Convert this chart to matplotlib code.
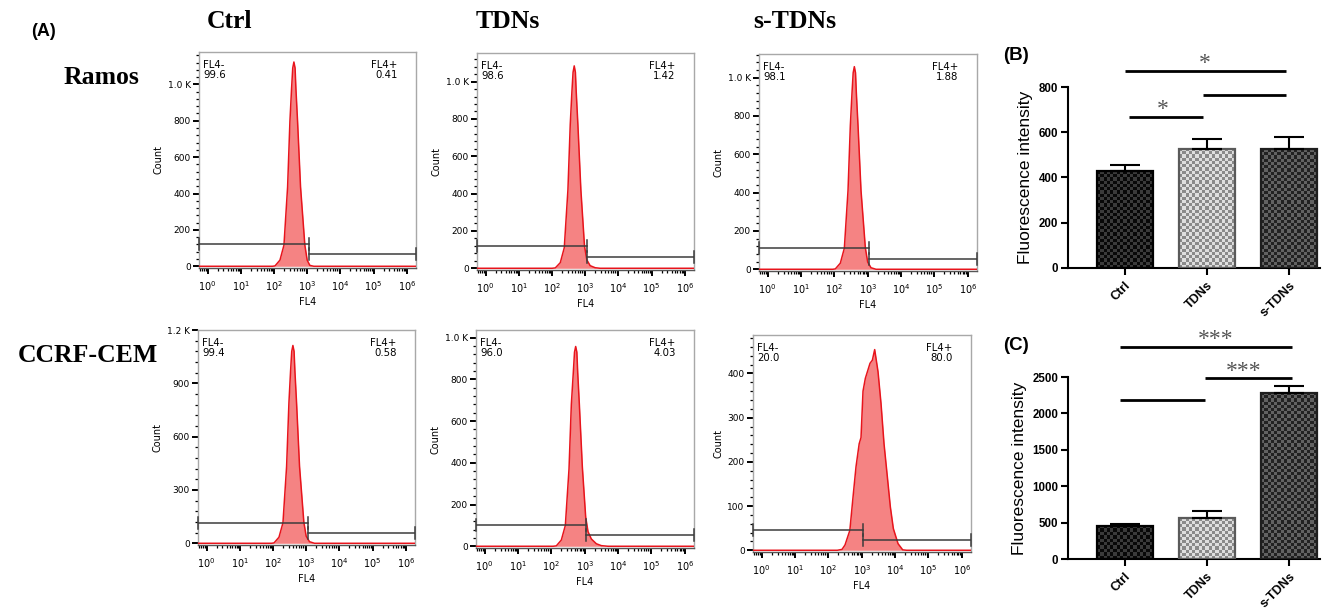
import numpy as np
import matplotlib
matplotlib.use('Agg')
import matplotlib.pyplot as plt
from matplotlib.ticker import FixedLocator, MultipleLocator, LogLocator, NullFormatter
from matplotlib.colors import ListedColormap

plt.rcParams['font.family'] = ['Liberation Sans', 'DejaVu Sans']
plt.rcParams['mathtext.default'] = 'regular'

W, H = 1338, 613

# ---- data ----
col_names = ['Ctrl', 'TDNs', 's-TDNs']
row_names = ['Ramos', 'CCRF-CEM']

# flow histograms: log10(FL4) and Count
ramos_ctrl_log = [1.95, 2.03, 2.18, 2.3, 2.41, 2.48, 2.53, 2.565, 2.6, 2.635, 2.66, 2.71, 2.8, 2.93, 3.0, 3.08, 3.2]
ramos_ctrl_cnt = [0, 2, 34, 116, 436, 797, 978, 1090, 1123, 1090, 978, 797, 436, 116, 34, 5, 0]
ramos_tdn_log = [2.0, 2.1, 2.25, 2.37, 2.48, 2.55, 2.6, 2.635, 2.67, 2.705, 2.73, 2.78, 2.87, 2.98, 3.05, 3.15, 3.3, 3.45]
ramos_tdn_cnt = [0, 2, 30, 110, 420, 770, 945, 1050, 1084, 1050, 945, 770, 420, 118, 45, 14, 3, 0]
ramos_stdn_log = [1.95, 2.03, 2.18, 2.3, 2.41, 2.48, 2.53, 2.565, 2.6, 2.635, 2.66, 2.71, 2.8, 2.93, 3.0, 3.1, 3.25]
ramos_stdn_cnt = [0, 2, 32, 110, 410, 750, 920, 1025, 1057, 1025, 920, 750, 410, 112, 38, 8, 0]
cem_ctrl_log = [1.95, 2.03, 2.18, 2.3, 2.41, 2.48, 2.53, 2.565, 2.6, 2.635, 2.66, 2.71, 2.8, 2.93, 3.0, 3.1, 3.25]
cem_ctrl_cnt = [0, 2, 34, 115, 432, 790, 970, 1080, 1113, 1080, 970, 790, 432, 118, 40, 9, 0]
cem_tdn_log = [2.05, 2.15, 2.3, 2.42, 2.53, 2.6, 2.66, 2.695, 2.73, 2.765, 2.79, 2.84, 2.93, 3.03, 3.1, 3.2, 3.35, 3.5, 3.7]
cem_tdn_cnt = [0, 2, 30, 100, 370, 680, 835, 930, 957, 930, 835, 680, 380, 140, 70, 35, 12, 3, 0]
cem_stdn_log = [2.27, 2.41, 2.5, 2.645, 2.74, 2.83, 2.925, 2.98, 3.04, 3.11, 3.25, 3.32, 3.39,
                3.49, 3.58, 3.67, 3.77, 3.86, 3.95, 4.09, 4.23, 4.35]
cem_stdn_cnt = [0, 2, 12, 45, 120, 189, 241, 255, 360, 389, 423, 430, 454,
                404, 332, 241, 166, 98, 49, 15, 1, 0]

neg_pct = [['99.6', '98.6', '98.1'], ['99.4', '96.0', '20.0']]
pos_pct = [['0.41', '1.42', '1.88'], ['0.58', '4.03', '80.0']]

# bar charts (mean, upper error)
ramos_mean = [428, 528, 524]
ramos_err = [27, 44, 56]
cem_mean = [458, 559, 2285]
cem_err = [27, 96, 88]

# ---- layout ----
fig = plt.figure(figsize=(W / 100, H / 100), dpi=100)


def px_axes(l, t, r, b):
    return fig.add_axes([l / W, 1 - b / H, (r - l) / W, (b - t) / H])


XMIN, XMAX = 0.55, 1.9e6
GATE = 1100

hist_boxes = [[(199, 52, 416, 268), (477, 53, 694, 270), (759, 54, 977, 271)],
              [(198, 330, 415, 545), (476, 330, 694, 548), (753, 335, 971, 552)]]
hist_data = [[(ramos_ctrl_log, ramos_ctrl_cnt), (ramos_tdn_log, ramos_tdn_cnt), (ramos_stdn_log, ramos_stdn_cnt)],
             [(cem_ctrl_log, cem_ctrl_cnt), (cem_tdn_log, cem_tdn_cnt), (cem_stdn_log, cem_stdn_cnt)]]
y_tops = [[1178, 1153, 1123], [1200, 1036, 487]]
k_ticks = ([0, 200, 400, 600, 800, 1000], ['0', '200', '400', '600', '800', '1.0 K'], 40)
y_tick_sets = [[k_ticks, k_ticks, k_ticks],
               [([0, 300, 600, 900, 1200], ['0', '300', '600', '900', '1.2 K'], 60), k_ticks,
                ([0, 100, 200, 300, 400], ['0', '100', '200', '300', '400'], 20)]]
gates = [[(122, 67), (118, 59), (110, 55)], [(115, 60), (103, 52), (45, 23)]]

hfont = 'DejaVu Sans'


def draw_hist(ax, logx, cnt, ytop, yt, gate, neg, pos):
    x = np.concatenate([[XMIN], 10 ** np.asarray(logx, dtype=float), [XMAX]])
    y = np.concatenate([[0], cnt, [0]])
    ax.fill_between(x, 0, y, color='#f58383', lw=0, zorder=2)
    ax.plot(x, y, color='#e8141c', lw=1.1, zorder=3)
    ax.set_xscale('log')
    ax.set_xlim(XMIN, XMAX)
    ax.set_ylim(-0.008 * ytop, ytop)

    ticks, labels, minor = yt
    ax.yaxis.set_major_locator(FixedLocator(ticks))
    ax.set_yticklabels(labels)
    ax.yaxis.set_minor_locator(MultipleLocator(minor))
    ax.xaxis.set_major_locator(FixedLocator([10.0 ** k for k in range(7)]))
    ax.set_xticklabels(['10$^{%d}$' % k for k in range(7)])
    ax.xaxis.set_minor_locator(LogLocator(base=10, subs=np.arange(2, 10)))
    ax.xaxis.set_minor_formatter(NullFormatter())
    for lab in ax.get_xticklabels() + ax.get_yticklabels():
        lab.set_fontfamily(hfont)
    ax.tick_params(which='major', direction='out', length=4, width=1.4, color='black',
                   labelsize=6.5, pad=2)
    ax.tick_params(axis='x', which='major', labelsize=7, pad=4)
    ax.tick_params(which='minor', direction='out', length=2.2, width=0.9, color='black')
    for s in ax.spines.values():
        s.set_color('#a8a8a8')
        s.set_linewidth(1.0)
    ax.spines['bottom'].set_color('#555555')
    ax.set_ylabel('Count', fontsize=7, fontfamily=hfont, labelpad=3)
    ax.set_xlabel('FL4', fontsize=7, fontfamily=hfont, labelpad=3)

    # gates
    gl, gr = gate
    tk = ytop * 0.028
    gc = '#3c3c3c'
    ax.plot([XMIN, GATE], [gl, gl], color=gc, lw=1.1, zorder=4)
    ax.plot([XMIN, XMIN], [gl - tk, gl + tk], color=gc, lw=1.1, zorder=4, clip_on=False)
    ax.plot([GATE, GATE], [gl - tk, gl + tk], color=gc, lw=1.1, zorder=4)
    ax.plot([GATE, XMAX], [gr, gr], color=gc, lw=1.1, zorder=4)
    ax.plot([GATE, GATE], [gr - tk, gr + tk], color=gc, lw=1.1, zorder=4)
    ax.plot([XMAX, XMAX], [gr - tk, gr + tk], color=gc, lw=1.1, zorder=4, clip_on=False)

    ax.text(0.02, 0.965, 'FL4-\n' + neg, transform=ax.transAxes, ha='left', va='top',
            fontsize=7.3, fontfamily=hfont, linespacing=1.1)
    ax.text(0.915, 0.965, 'FL4+\n' + pos, transform=ax.transAxes, ha='right', va='top',
            fontsize=7.3, fontfamily=hfont, linespacing=1.1, multialignment='right')


for r in range(2):
    for c in range(3):
        ax = px_axes(*hist_boxes[r][c])
        logx, cnt = hist_data[r][c]
        draw_hist(ax, logx, cnt, y_tops[r][c], y_tick_sets[r][c], gates[r][c],
                  neg_pct[r][c], pos_pct[r][c])

# headers and row names
serif = 'Liberation Serif'
for name, xc in zip(col_names, [230, 508, 795]):
    fig.text(xc / W, 1 - 22 / H, name, ha='center', va='center', fontsize=18.5,
             fontfamily=serif, fontweight='bold')
fig.text(101 / W, 1 - 77 / H, row_names[0], ha='center', va='center', fontsize=18.5,
         fontfamily=serif, fontweight='bold')
fig.text(88 / W, 1 - 356 / H, row_names[1], ha='center', va='center', fontsize=18.5,
         fontfamily=serif, fontweight='bold')
fig.text(43 / W, 1 - 32 / H, '(A)', ha='center', va='center', fontsize=13, fontweight='bold')
fig.text(1016 / W, 1 - 56 / H, '(B)', ha='center', va='center', fontsize=13.5, fontweight='bold')
fig.text(1016 / W, 1 - 345 / H, '(C)', ha='center', va='center', fontsize=13.5, fontweight='bold')

# ---- bar charts ----
bar_styles = [('#080808', '#3a3a3a', '#000000'),
              ('#8a8a8a', '#dedede', '#5a5a5a'),
              ('#222222', '#626262', '#1e1e1e')]


def checker_bar(ax, xc, h, w, c1, c2, edge):
    bar = ax.bar(xc, h, w, color='none', edgecolor=edge, lw=1.6, zorder=3)[0]
    p0 = ax.transData.transform((xc - w / 2, 0))
    p1 = ax.transData.transform((xc + w / 2, h))
    ncol = max(1, int(round((p1[0] - p0[0]) / 3.2)))
    nrow = max(1, int(round((p1[1] - p0[1]) / 3.2)))
    img = np.indices((nrow, ncol)).sum(axis=0) % 2
    im = ax.imshow(img, extent=(xc - w / 2, xc + w / 2, 0, h), cmap=ListedColormap([c1, c2]),
                   aspect='auto', interpolation='nearest', zorder=2)
    im.set_clip_path(bar)


def draw_bars(ax, means, errs, ymax, ystep, lines, stars):
    xs = np.arange(len(col_names))
    ax.set_xlim(-0.69, 2.38)
    ax.set_ylim(0, ymax)
    for xi, m, st in zip(xs, means, bar_styles):
        checker_bar(ax, xi, m, 0.68, st[0], st[1], st[2])
    ax.errorbar(xs, means, yerr=[np.zeros(len(errs)), errs], fmt='none', ecolor='black',
                elinewidth=1.5, capsize=10.5, capthick=1.5, zorder=4)
    ax.set_xlim(-0.69, 2.38)
    ax.set_ylim(0, ymax)
    ax.set_xticks(xs)
    ax.set_xticklabels(col_names, rotation=45, ha='right', rotation_mode='anchor',
                       fontsize=9, fontweight='bold')
    ax.set_yticks(np.arange(0, ymax + 1, ystep))
    for lab in ax.get_yticklabels():
        lab.set_fontweight('bold')
    ax.tick_params(axis='y', direction='out', length=5, width=1.5, labelsize=8.3, pad=2)
    ax.tick_params(axis='x', direction='out', length=5, width=1.5, pad=3)
    for s in ['top', 'right']:
        ax.spines[s].set_visible(False)
    for s in ['left', 'bottom']:
        ax.spines[s].set_linewidth(1.5)
    ax.set_ylabel('Fluorescence intensity', fontsize=12.5, labelpad=4)
    for x0, x1, y in lines:
        ax.plot([x0, x1], [y, y], color='black', lw=2, clip_on=False, solid_capstyle='butt')
    for xs_, y, s in stars:
        ax.text(xs_, y, s, ha='center', va='center', fontsize=17, color='#555555',
                fontfamily=serif, clip_on=False)


axB = px_axes(1068, 87, 1320, 268)
draw_bars(axB, ramos_mean, ramos_err, 800, 200,
          [(0.0, 1.97, 870), (0.96, 1.97, 763), (0.05, 0.96, 668)],
          [(0.98, 905, '*'), (0.46, 700, '*')])

axC = px_axes(1068, 377, 1320, 559)
draw_bars(axC, cem_mean, cem_err, 2500, 500,
          [(-0.06, 2.04, 2912), (0.98, 2.04, 2486), (-0.06, 0.98, 2189)],
          [(1.11, 3010, '***'), (1.45, 2580, '***')])

fig.savefig('out.png', dpi=100)
